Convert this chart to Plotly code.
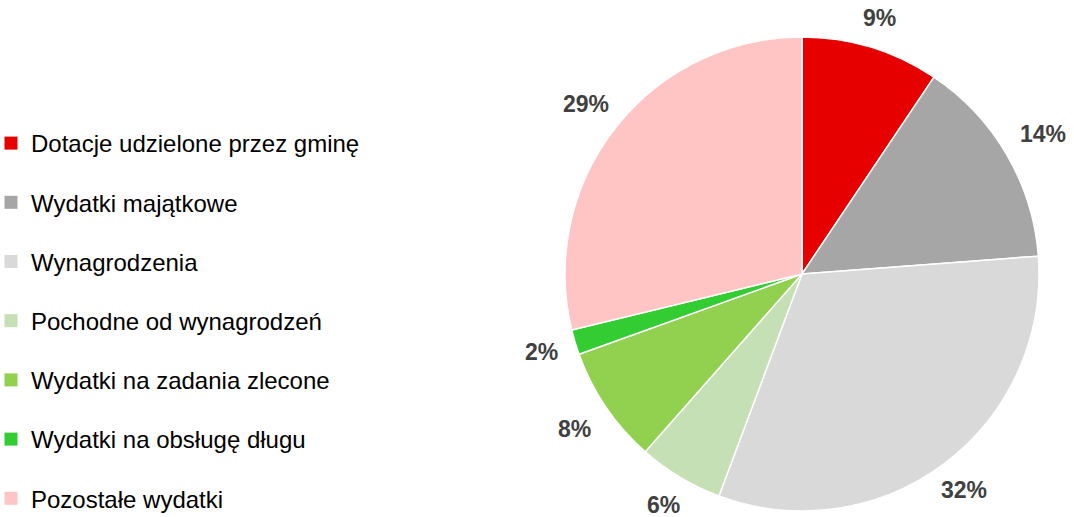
import math
import plotly.graph_objects as go

categories = [
    "Dotacje udzielone przez gminę",
    "Wydatki majątkowe",
    "Wynagrodzenia",
    "Pochodne od wynagrodzeń",
    "Wydatki na zadania zlecone",
    "Wydatki na obsługę długu",
    "Pozostałe wydatki",
]
values = [9.4, 14.4, 31.9, 5.8, 8.0, 1.7, 28.8]
colors = ["#E60000", "#A6A6A6", "#D9D9D9", "#C5E0B4", "#92D050", "#33CC33", "#FFC5C5"]

W, H = 1074, 517
CX, CY, R = 802, 274, 237          # pie centre and radius in pixels
LABEL_SIZE = 23
GAP = 18

fig = go.Figure()
fig.add_trace(go.Pie(
    labels=categories,
    values=values,
    sort=False,
    direction="clockwise",
    rotation=0,
    marker=dict(colors=colors, line=dict(color="white", width=1.5)),
    textinfo="none",
    showlegend=False,
    domain=dict(x=[(CX - R) / W, (CX + R) / W], y=[1 - (CY + R) / H, 1 - (CY - R) / H]),
    hoverinfo="label+percent",
))

# percentage labels placed outside each slice, computed from the data
total = sum(values)
cum = 0.0
for v in values:
    mid = (cum + v / 2) / total * 2 * math.pi
    cum += v
    pct = f"{round(v / total * 100):d}%"
    dx, dy = math.sin(mid), -math.cos(mid)
    ndig = len(pct) - 1
    bw = LABEL_SIZE * (0.556 * ndig + 0.889)
    bh = 24
    t = min(bw / 2 / max(abs(dx), 1e-6), bh / 2 / max(abs(dy), 1e-6))
    px = CX + (R + GAP + t) * dx
    py = CY + (R + GAP + t) * dy
    fig.add_annotation(
        x=px / W, y=1 - py / H, xref="paper", yref="paper",
        text=pct, showarrow=False, xanchor="center", yanchor="middle",
        font=dict(family="Liberation Sans, Arial, sans-serif",
                  size=LABEL_SIZE, color="#404040", weight="bold"),
    )

# legend entries
for name, col in zip(categories, colors):
    fig.add_trace(go.Scatter(
        x=[None], y=[None], mode="markers", name=name,
        marker=dict(symbol="square", size=13, color=col),
        legendgroup=name, showlegend=True, hoverinfo="skip",
    ))

fig.update_layout(
    width=W, height=H,
    margin=dict(l=0, r=0, t=0, b=0, autoexpand=False),
    paper_bgcolor="white", plot_bgcolor="white",
    xaxis=dict(visible=False), yaxis=dict(visible=False),
    legend=dict(
        xref="paper", yref="paper",
        x=-9 / W, y=1 - 121 / H, xanchor="left", yanchor="top",
        font=dict(family="Liberation Sans, Arial, sans-serif", size=24, color="#000000"),
        tracegroupgap=25,
        bgcolor="rgba(0,0,0,0)",
        itemclick=False, itemdoubleclick=False,
    ),
)

fig.write_html("out.html", config={"displayModeBar": False},
               post_script="document.body.style.margin='0';")
